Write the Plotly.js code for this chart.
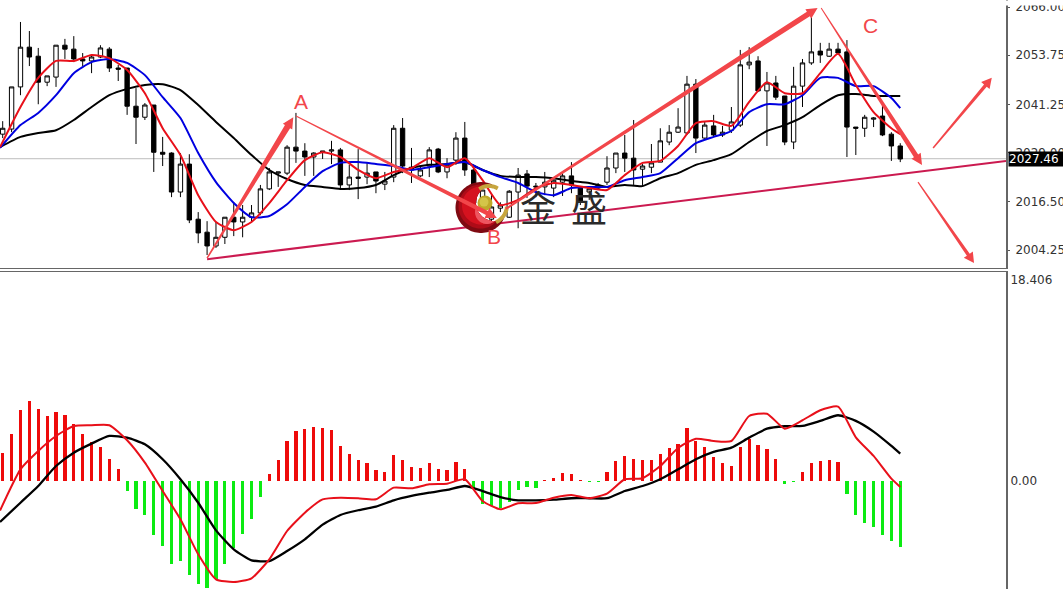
<!DOCTYPE html>
<html>
<head>
<meta charset="utf-8">
<script src="https://cdn.plot.ly/plotly-3.0.1.min.js"></script>
<style>html,body{margin:0;padding:0;background:#fff;overflow:hidden}#chart{width:1063px;height:589px}</style>
</head>
<body>
<div id="chart"></div>
<script>
const openPrice = [2033.7,2035.0,2045.7,2055.8,2053.5,2046.9,2048.2,2056.3,2055.3,2052.8,2052.3,2053.3,2055.3,2050.5,2050.5,2040.8,2038.0,2041.1,2029.1,2028.9,2019.0,2026.1,2012.1,2008.8,2005.3,2007.5,2012.6,2011.4,2012.6,2013.7,2019.8,2023.8,2023.8,2030.4,2029.4,2027.9,2029.1,2029.4,2029.7,2020.8,2022.8,2022.8,2024.1,2021.0,2022.8,2035.2,2025.3,2023.1,2025.6,2029.9,2024.1,2027.1,2032.7,2024.6,2017.0,2012.1,2014.9,2012.6,2019.0,2023.6,2020.5,2020.3,2020.0,2021.5,2023.1,2020.0,2019.0,2020.0,2021.5,2025.1,2028.9,2027.6,2024.8,2025.3,2026.6,2031.7,2034.2,2034.0,2046.4,2032.7,2035.8,2033.5,2034.7,2036.0,2051.3,2052.3,2044.7,2046.7,2043.4,2031.7,2045.9,2051.8,2054.8,2053.5,2055.3,2054.6,2035.5,2035.2,2037.5,2038.3,2033.7,2030.7];
const highPrice = [2037.0,2045.7,2062.2,2059.9,2055.6,2048.5,2056.3,2057.9,2058.6,2054.3,2053.8,2056.3,2055.8,2051.3,2050.5,2045.4,2041.6,2041.1,2033.0,2029.1,2028.9,2028.6,2013.9,2011.6,2011.4,2012.6,2016.4,2015.7,2015.7,2020.8,2025.1,2024.1,2030.9,2039.1,2031.4,2029.1,2029.4,2032.0,2030.2,2025.9,2029.9,2026.4,2024.1,2024.1,2036.0,2037.8,2030.2,2025.6,2030.4,2030.2,2027.6,2034.2,2036.8,2025.9,2019.5,2018.2,2016.4,2019.5,2025.1,2024.6,2021.3,2024.1,2022.8,2023.8,2026.6,2020.0,2020.5,2021.3,2028.1,2028.9,2033.5,2037.3,2026.1,2031.2,2035.2,2036.0,2040.3,2048.5,2047.7,2036.8,2038.6,2035.8,2040.6,2055.1,2055.8,2053.5,2049.5,2048.5,2043.4,2050.8,2052.8,2064.0,2056.9,2056.9,2056.9,2057.6,2035.5,2038.6,2038.0,2041.1,2034.2,2031.4];
const lowPrice = [2032.7,2034.2,2043.6,2051.0,2041.3,2045.9,2045.7,2052.8,2052.0,2051.0,2049.2,2053.0,2049.5,2047.2,2038.6,2031.2,2037.3,2024.1,2025.6,2017.7,2017.7,2011.1,2006.0,2003.0,2004.8,2005.8,2007.8,2007.5,2011.4,2013.1,2019.5,2020.3,2023.3,2026.4,2023.1,2023.1,2027.4,2026.1,2020.0,2019.5,2017.2,2021.0,2018.7,2019.5,2021.5,2023.8,2021.3,2022.8,2022.8,2023.8,2022.5,2025.9,2023.1,2015.7,2015.7,2011.4,2013.9,2012.4,2009.8,2017.5,2017.7,2018.2,2017.7,2018.0,2018.7,2015.7,2017.0,2019.5,2020.8,2023.8,2024.1,2020.8,2020.3,2023.8,2026.6,2030.9,2034.0,2033.5,2028.9,2032.5,2033.0,2033.0,2034.0,2035.5,2050.2,2044.4,2030.7,2042.4,2030.9,2029.9,2040.6,2051.3,2051.8,2053.3,2053.8,2027.9,2028.4,2033.0,2035.5,2033.2,2026.9,2026.6];
const closePrice = [2035.2,2045.7,2055.8,2053.3,2046.9,2048.5,2056.3,2055.3,2052.8,2052.3,2053.3,2055.6,2050.5,2050.2,2040.8,2038.0,2041.1,2029.1,2028.6,2019.0,2026.1,2011.9,2008.6,2005.3,2007.5,2012.6,2011.4,2012.6,2013.7,2019.8,2024.1,2024.1,2030.4,2029.4,2027.9,2028.9,2029.4,2029.7,2020.8,2022.8,2022.5,2023.8,2021.8,2021.8,2035.2,2025.6,2024.6,2024.6,2029.7,2024.1,2025.9,2032.7,2024.6,2016.2,2019.5,2015.2,2015.7,2019.2,2023.3,2020.5,2020.3,2021.5,2022.0,2023.1,2020.8,2016.7,2019.8,2020.8,2025.1,2028.9,2027.6,2024.6,2025.6,2026.4,2032.0,2034.2,2035.5,2046.4,2032.7,2036.0,2033.5,2034.2,2036.8,2051.3,2052.0,2044.7,2046.7,2043.1,2031.7,2045.9,2051.8,2054.6,2053.8,2055.3,2054.3,2035.5,2035.2,2038.0,2037.8,2033.5,2030.7,2027.4];

const lineBars = [-0.3,2,4,6,8,10,12,14,16,18,20,22,24,26,28,30,32,34,36,38,40,42,44,46,48,50,52,54,56,58,60,62,64,66,68,70,72,74,76,78,80,82,84,86,88,90,92,94,96,98,100,101];
const fastMA = [2030.4,2040.6,2048.0,2052.3,2052.3,2053.8,2053.0,2050.0,2044.1,2035.2,2028.4,2018.2,2011.4,2009.3,2011.4,2016.2,2022.0,2027.1,2029.1,2027.9,2024.6,2022.5,2024.1,2025.1,2027.6,2025.3,2027.6,2022.0,2015.7,2017.0,2020.0,2021.3,2020.8,2020.0,2019.5,2023.3,2026.4,2026.9,2030.7,2036.5,2037.0,2035.8,2041.9,2046.9,2044.1,2044.1,2049.2,2054.1,2046.2,2039.3,2035.2,2033.7];
const midMA = [2030.2,2036.0,2039.1,2043.6,2049.2,2052.0,2052.8,2051.8,2048.7,2043.1,2037.8,2028.9,2021.5,2016.2,2012.6,2012.9,2015.9,2020.3,2024.3,2026.4,2026.6,2026.1,2025.6,2024.6,2025.3,2026.1,2026.6,2024.6,2022.8,2021.3,2019.0,2018.2,2020.0,2020.3,2020.3,2022.0,2022.8,2023.8,2027.6,2031.4,2033.0,2034.5,2039.3,2041.3,2041.3,2043.6,2048.0,2048.0,2045.9,2045.9,2042.9,2040.3];
const slowMA = [2030.4,2033.0,2034.0,2034.7,2037.3,2040.6,2043.6,2045.2,2046.2,2046.4,2044.9,2041.1,2036.8,2032.7,2028.4,2024.6,2022.3,2020.8,2020.3,2019.8,2020.0,2020.8,2023.3,2025.1,2025.9,2026.1,2026.6,2024.6,2023.1,2022.8,2022.8,2022.5,2021.8,2021.3,2020.3,2020.8,2020.5,2022.5,2023.8,2025.9,2027.1,2028.6,2031.7,2034.5,2036.0,2038.0,2041.1,2043.6,2043.9,2043.4,2043.4,2043.4];

const histogram = [2.59,4.33,6.50,7.33,6.62,5.95,6.32,6.05,5.19,4.33,3.57,3.14,2.04,1.13,-0.92,-2.56,-3.11,-4.95,-5.95,-7.58,-7.33,-8.61,-9.41,-9.77,-9.00,-7.58,-6.16,-4.88,-3.51,-1.47,0.61,1.92,3.66,4.58,4.74,4.95,4.85,4.67,3.21,2.50,1.92,1.68,1.01,0.82,2.38,1.92,1.31,1.22,1.68,1.13,1.01,1.77,1.13,-0.76,-2.11,-2.29,-2.47,-1.90,-0.82,-0.55,-0.67,0.09,0.30,0.76,0.67,0.06,-0.12,-0.12,0.85,1.83,2.32,2.02,1.95,1.95,2.50,3.00,3.36,4.83,3.66,3.11,2.20,1.65,1.40,3.14,3.82,3.30,2.93,2.02,-0.25,-0.06,0.85,1.68,1.86,1.95,1.77,-1.22,-3.11,-3.85,-4.21,-4.95,-5.50,-6.02];
const macdFast = [-2.7,1.07,2.75,4.12,5.04,5.10,5.10,3.73,1.68,-0.92,-3.51,-6.71,-9.00,-9.25,-8.91,-7.17,-4.58,-2.90,-1.68,-1.53,-1.58,-1.68,-0.61,-0.67,-0.30,-0.25,0.16,-1.83,-2.59,-2.04,-2.02,-1.53,-1.28,-1.58,-1.16,0.16,0.25,1.37,3.02,3.87,3.66,3.66,5.95,6.16,4.79,5.56,6.48,6.81,4.00,2.29,0.21,-0.55];
const macdSlow = [-3.75,-1.99,-0.46,1.37,2.59,3.42,4.12,3.97,3.36,1.99,0.16,-1.99,-4.52,-6.26,-7.26,-7.33,-6.41,-5.34,-4.00,-3.11,-2.68,-2.35,-1.77,-1.37,-1.07,-0.82,-0.46,-0.92,-1.47,-1.77,-1.77,-1.71,-1.58,-1.58,-1.58,-0.92,-0.46,0.16,1.07,1.99,2.66,3.05,3.97,4.79,5.01,5.04,5.50,6.02,5.50,4.52,3.21,2.50];

const priceTicks = [2066,2053.75,2041.25,2029,2016.5,2004.25];
const priceTickText = ['2066.00','2053.75','2041.25','2029.00','2016.50','2004.25'];
const macdTicks = [18.406,0];
const macdTickText = ['18.406','0.00'];
const lastPrice = 2027.46;

// hand-drawn annotations, in bar index / price units: [fromBar, fromPrice, toBar, toPrice, startWidth, endWidth, headLength, headWidth]
const handArrows = [
  [23,2002.2,32.7,2038.0,1.5,6,11,11],
  [33,2038.3,55.6,2012.4,1,4.5,11,11],
  [56.6,2014.7,91.7,2065.75,2,5.5,11,11],
  [92.1,2065.75,103.45,2025.85,1,5,11,11],
  [104.7,2030.2,111.3,2048,1.5,3.5,10,11],
  [103,2021.5,109.3,2001,1.2,3.5,10,11]
];
const trendLine = [23,2001.95,112.9,2026.9];
const waveLabels = [['A',33.6,2042],['B',55.3,2007.8],['C',97.6,2061.4]];

const W = 1063, H = 589;
const barPx = 8.887, pricePx = 3.935;
const barIndex = openPrice.map((_, i) => i);

function taper(a) {
  const [x0,y0,x1,y1,w0,w1,hl,hw] = a;
  const dx = (x1-x0)*barPx, dy = -(y1-y0)*pricePx;
  const len = Math.hypot(dx,dy), ux = dx/len, uy = dy/len, nx = -uy, ny = ux;
  const pt = (along, off) => {
    const px = along*ux + off*nx, py = along*uy + off*ny;
    return (x0+px/barPx).toFixed(3)+','+(y0-py/pricePx).toFixed(3);
  };
  const b = len-hl;
  return 'M'+[pt(0,-w0/2),pt(b,-w1/2),pt(b,-hw/2),pt(len,0),pt(b,hw/2),pt(b,w1/2),pt(0,w0/2)].join(' L')+' Z';
}
const P = (x,y) => (x/W).toFixed(5)+','+(1-y/H).toFixed(5);
function crescent(cx,cy,R,ix,iy,r) {
  const out=[], inn=[];
  for (let a=0;a<360;a+=4){const t=a*Math.PI/180;const x=cx+R*Math.cos(t),y=cy+R*Math.sin(t);if(Math.hypot(x-ix,y-iy)>r)out.push(P(x,y));}
  for (let a=0;a<360;a+=4){const t=a*Math.PI/180;const x=ix+r*Math.cos(t),y=iy+r*Math.sin(t);if(Math.hypot(x-cx,y-cy)<R)inn.push(P(x,y));}
  return 'M'+out.concat(inn.reverse()).join(' L')+' Z';
}
function arc(cx,cy,r,a0,a1){const p=[];for(let a=a0;a<=a1;a+=6){const t=a*Math.PI/180;p.push(P(cx+r*Math.cos(t),cy+r*Math.sin(t)));}return 'M'+p.join(' L');}
const logoShape=(path,fill)=>({type:'path',xref:'paper',yref:'paper',path,fillcolor:fill,line:{width:0},layer:'above'});
const arcShape=(path,color,w)=>({type:'path',xref:'paper',yref:'paper',path,fillcolor:'rgba(0,0,0,0)',line:{color,width:w},layer:'above'});
const ball=(cx,cy,r,fill)=>({type:'circle',xref:'paper',yref:'paper',x0:(cx-r)/W,x1:(cx+r)/W,y0:1-(cy+r)/H,y1:1-(cy-r)/H,fillcolor:fill,line:{width:0},layer:'above'});

const arrowRed = '#f2464a';
const shapes = [
  {type:'line',xref:'x',yref:'y',x0:-0.4,x1:113,y0:lastPrice,y1:lastPrice,line:{color:'#bdbdbd',width:1},layer:'below'},
  {type:'line',xref:'x',yref:'y',x0:trendLine[0],y0:trendLine[1],x1:trendLine[2],y1:trendLine[3],line:{color:'#cb1a50',width:2},layer:'above'},
  logoShape(crescent(481,207.5,25.5,494,203,18),'#7f0a12'),
  logoShape(crescent(480.5,206.5,22,494,203,18),'#ae0c18'),
  logoShape(crescent(481,205.5,19,494,203,18),'#d5121f'),
  logoShape(crescent(487,212,12,494,203,18),'#ee5560'),
  arcShape(arc(489,203,17,-125,-55),'#c6a53e',4),
  arcShape(arc(488,205,19,5,70),'#c6a53e',4),
  ball(485,203,7.5,'#bfa92a'),
  ball(484,202,4.5,'#d4c548')
].concat(handArrows.map(a => ({type:'path',xref:'x',yref:'y',path:taper(a),fillcolor:arrowRed,line:{width:0},layer:'above'})));

const annotations = [
  {xref:'paper',yref:'y',x:1008/W,y:lastPrice,xanchor:'left',yanchor:'middle',text:'2027.46 ',showarrow:false,bgcolor:'#000',font:{family:'DejaVu Sans',size:12,color:'#fff'},borderpad:0,align:'left',width:60,height:14},
  {xref:'paper',yref:'paper',x:1000/W,y:1,xanchor:'left',yanchor:'top',text:' ',showarrow:false,bgcolor:'#fff',width:63,height:4,borderpad:0,font:{size:1}},
  {xref:'paper',yref:'paper',x:538/W,y:1-206/H,text:'金',showarrow:false,font:{family:'Noto Sans CJK SC',size:36,color:'#2a2a2a'}},
  {xref:'paper',yref:'paper',x:589/W,y:1-206/H,text:'盛',showarrow:false,font:{family:'Noto Sans CJK SC',size:36,color:'#2a2a2a'}}
].concat(waveLabels.map(l => ({xref:'x',yref:'y',x:l[1],y:l[2],text:l[0],showarrow:false,font:{family:'Liberation Sans',size:21,color:arrowRed}})));

const smooth = (color,width) => ({color,width,shape:'spline',smoothing:0.55});
const traces = [
  {type:'candlestick',x:barIndex,open:openPrice,high:highPrice,low:lowPrice,close:closePrice,xaxis:'x',yaxis:'y',width:0.56,whiskerwidth:0,
   increasing:{line:{color:'#000',width:1},fillcolor:'#fff'},decreasing:{line:{color:'#000',width:1},fillcolor:'#000'},hoverinfo:'skip'},
  {type:'scatter',mode:'lines',x:lineBars,y:slowMA,line:smooth('#000',2),xaxis:'x',yaxis:'y',hoverinfo:'skip'},
  {type:'scatter',mode:'lines',x:lineBars,y:midMA,line:smooth('#0000e0',2),xaxis:'x',yaxis:'y',hoverinfo:'skip'},
  {type:'scatter',mode:'lines',x:lineBars,y:fastMA,line:smooth('#e8101a',2),xaxis:'x',yaxis:'y',hoverinfo:'skip'},
  {type:'bar',x:barIndex,y:histogram,width:0.36,marker:{color:histogram.map(v => v>=0 ? '#ee0a0a' : '#0ceb12'),line:{width:0}},xaxis:'x2',yaxis:'y2',hoverinfo:'skip'},
  {type:'scatter',mode:'lines',x:lineBars,y:macdSlow,line:smooth('#000',2.3),xaxis:'x2',yaxis:'y2',hoverinfo:'skip'},
  {type:'scatter',mode:'lines',x:lineBars,y:macdFast,line:smooth('#e8101a',2),xaxis:'x2',yaxis:'y2',hoverinfo:'skip'}
];

const xRange = [-0.304,112.9];
const tickFont = {family:'DejaVu Sans',size:12,color:'#333'};
const layout = {
  width:W,height:H,margin:{l:0,r:0,t:0,b:0},paper_bgcolor:'#fff',plot_bgcolor:'#fff',showlegend:false,
  xaxis:{domain:[0,1006/W],range:xRange,anchor:'y',showgrid:false,zeroline:false,showticklabels:false,ticks:'',showline:true,linecolor:'#666',linewidth:1,rangeslider:{visible:false},fixedrange:true},
  yaxis:{domain:[1-268/H,1],range:[1999.7,2067.78],side:'right',anchor:'x',tickvals:priceTicks,ticktext:priceTickText,ticks:'outside',ticklen:2,tickcolor:'#555',tickfont:tickFont,showgrid:false,zeroline:false,showline:true,linecolor:'#666',linewidth:2,ticklabelstandoff:3,fixedrange:true},
  xaxis2:{domain:[0,1006/W],range:xRange,anchor:'y2',side:'top',showgrid:false,zeroline:false,showticklabels:false,ticks:'',showline:true,linecolor:'#666',linewidth:1,fixedrange:true},
  yaxis2:{domain:[0,1-271.5/H],range:[-9.89,19.18],side:'right',anchor:'x2',tickvals:macdTicks,ticktext:macdTickText,ticks:'',tickfont:tickFont,showgrid:false,zeroline:false,showline:true,linecolor:'#666',linewidth:2,fixedrange:true},
  bargap:0,shapes,annotations
};
Plotly.newPlot('chart',traces,layout,{displayModeBar:false,staticPlot:true});
</script>
</body>
</html>
